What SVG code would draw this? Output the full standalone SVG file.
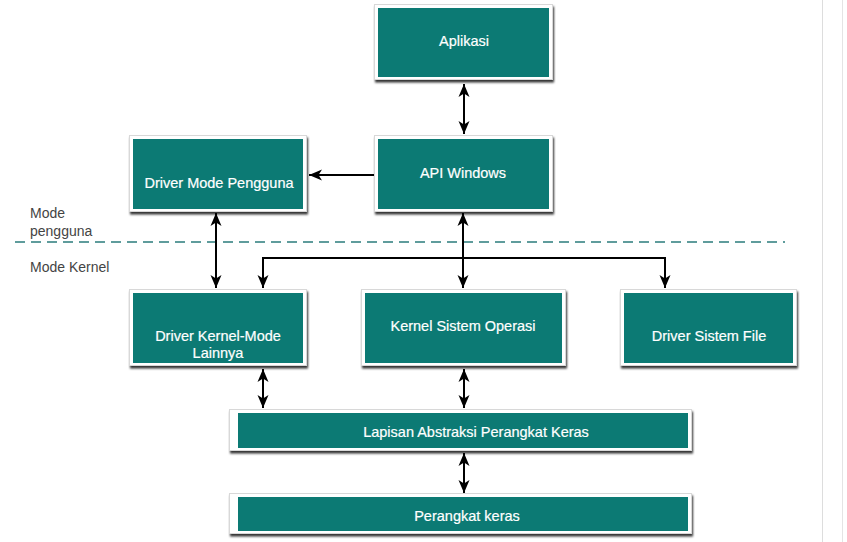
<svg xmlns="http://www.w3.org/2000/svg" width="847" height="542" viewBox="0 0 847 542">
<style>
.frame{fill:#ffffff;stroke:#d8d8d8;stroke-width:1;filter:url(#sh)}
.box{fill:#0c7a74}
.t{font-family:"Liberation Sans",Arial,sans-serif;font-size:14.5px;fill:#ffffff;text-anchor:middle;stroke:#ffffff;stroke-width:0.2}
.lbl{font-family:"Liberation Sans",Arial,sans-serif;font-size:14px;fill:#444444}
.c{fill:none;stroke:#000000;stroke-width:2}
.dash{fill:none;stroke:#5f9c9c;stroke-width:2;stroke-dasharray:10 6}
</style>
<defs>
<filter id="sh" x="-10%" y="-10%" width="125%" height="140%">
<feDropShadow dx="1" dy="2.5" stdDeviation="0.8" flood-color="#000000" flood-opacity="0.8"/>
</filter>
<marker id="ah" markerUnits="userSpaceOnUse" markerWidth="14" markerHeight="14" viewBox="0 0 14 14" refX="13" refY="7" orient="auto-start-reverse">
<path d="M0,1.5 L13,7 L0,12.5 L3.5,7 z" fill="#000000"/>
</marker>
</defs>
<rect width="847" height="542" fill="#ffffff"/>
<line x1="822.5" y1="0" x2="822.5" y2="542" stroke="#dddddd" stroke-width="1"/>
<line x1="842.5" y1="0" x2="842.5" y2="542" stroke="#e4e4e4" stroke-width="1"/>

<path class="dash" d="M15,242 H785"/>
<text class="lbl" x="30" y="218">Mode</text>
<text class="lbl" x="30" y="236">pengguna</text>
<text class="lbl" x="30" y="272">Mode Kernel</text>

<g id="aplikasi">
<rect class="frame" x="374.5" y="4.5" width="178" height="75"/>
<rect class="box" x="378" y="8" width="171" height="69"/>
<text class="t" x="464" y="46">Aplikasi</text>
</g>
<g id="api-windows">
<rect class="frame" x="374.5" y="135.5" width="178" height="76"/>
<rect class="box" x="378" y="139" width="171" height="70"/>
<text class="t" x="463" y="178">API Windows</text>
</g>
<g id="driver-mode-pengguna">
<rect class="frame" x="129.5" y="135.5" width="177" height="76"/>
<rect class="box" x="133" y="139" width="170" height="70"/>
<text class="t" x="219" y="188">Driver Mode Pengguna</text>
</g>
<g id="driver-kernel-mode">
<rect class="frame" x="129.5" y="289.5" width="177" height="76"/>
<rect class="box" x="133" y="293" width="170" height="70"/>
<text class="t" x="218" y="341">Driver Kernel-Mode</text>
<text class="t" x="218" y="358">Lainnya</text>
</g>
<g id="kernel-sistem-operasi">
<rect class="frame" x="361.5" y="289.5" width="204" height="76"/>
<rect class="box" x="365" y="293" width="197" height="70"/>
<text class="t" x="463" y="331">Kernel Sistem Operasi</text>
</g>
<g id="driver-sistem-file">
<rect class="frame" x="620.5" y="289.5" width="176" height="76"/>
<rect class="box" x="624" y="293" width="169" height="70"/>
<text class="t" x="709" y="341">Driver Sistem File</text>
</g>
<g id="lapisan-abstraksi">
<rect class="frame" x="229.5" y="409.5" width="462" height="41"/>
<rect class="box" x="238" y="413" width="450" height="35"/>
<text class="t" x="476" y="437">Lapisan Abstraksi Perangkat Keras</text>
</g>
<g id="perangkat-keras">
<rect class="frame" x="229.5" y="493.5" width="462" height="40"/>
<rect class="box" x="238" y="497" width="450" height="34"/>
<text class="t" x="467" y="521">Perangkat keras</text>
</g>

<g id="connectors">
<path class="c" d="M464,84 V134" marker-start="url(#ah)" marker-end="url(#ah)"/>
<path class="c" d="M374,175 H309" marker-end="url(#ah)"/>
<path class="c" d="M216,213 V288" marker-start="url(#ah)" marker-end="url(#ah)"/>
<path class="c" d="M463,213 V288" marker-start="url(#ah)" marker-end="url(#ah)"/>
<path class="c" d="M263,288 V258 H665 V288" marker-start="url(#ah)" marker-end="url(#ah)"/>
<path class="c" d="M263,369 V408" marker-start="url(#ah)" marker-end="url(#ah)"/>
<path class="c" d="M464,369 V408" marker-start="url(#ah)" marker-end="url(#ah)"/>
<path class="c" d="M464,453 V493" marker-start="url(#ah)" marker-end="url(#ah)"/>
</g>
</svg>
